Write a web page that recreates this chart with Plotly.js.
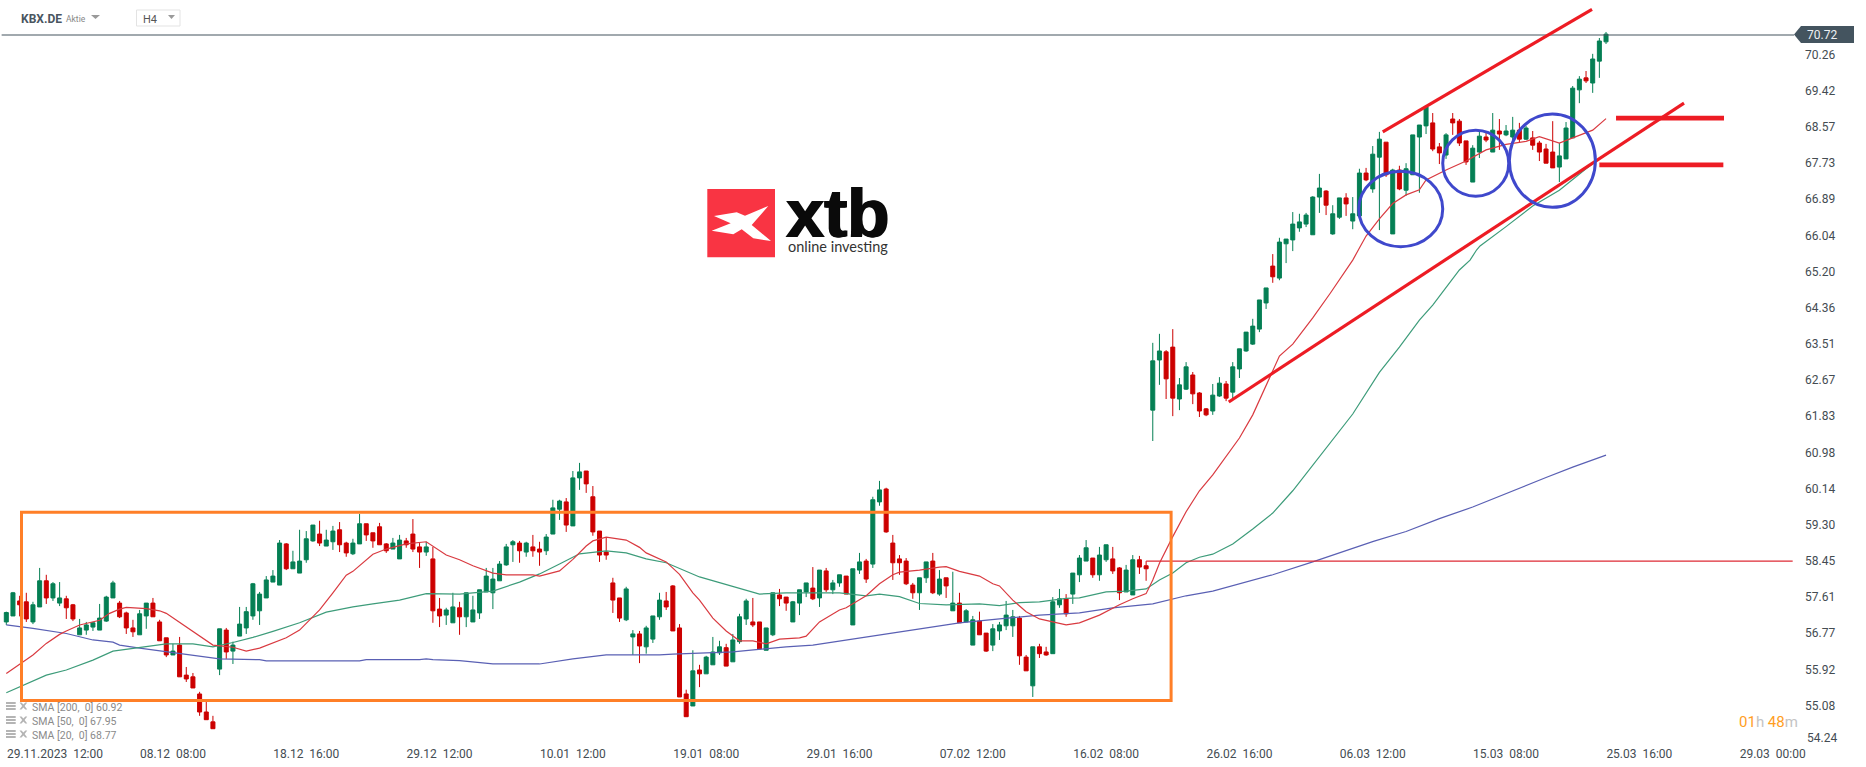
<!DOCTYPE html>
<html><head><meta charset="utf-8">
<script src="https://cdn.plot.ly/plotly-3.0.1.min.js"></script>
<style>html,body{margin:0;padding:0;background:#fff;overflow:hidden}#c{width:1866px;height:767px}</style>
</head><body><div id="c"></div>
<script>
// One entry per H4 candle, left to right.
const opens=[57.03,57.17,57.52,57.50,57.03,57.38,57.99,57.59,57.47,57.57,
57.43,56.73,56.84,56.91,56.84,57.05,57.59,57.47,57.24,56.89,
56.73,57.17,57.47,57.03,56.66,56.26,56.49,55.79,55.75,55.35,
54.93,54.70,55.93,56.84,56.35,56.70,56.89,57.17,57.29,57.59,
57.96,57.89,58.85,58.27,58.17,58.48,58.92,59.08,58.80,58.90,
59.18,58.87,58.62,58.85,59.32,59.11,59.25,58.85,58.73,58.50,
58.92,59.08,58.78,58.66,58.50,57.33,57.19,57.01,57.36,57.15,
57.03,57.24,57.73,57.71,57.99,58.36,58.83,58.87,58.66,58.78,
58.73,58.69,59.08,59.66,59.83,59.27,60.39,60.55,59.95,59.15,
58.66,57.94,57.59,57.08,56.68,56.75,56.45,56.63,57.15,57.52,
57.87,56.89,55.35,55.07,55.91,55.82,56.03,56.31,56.43,56.10,
56.57,57.10,57.03,57.03,56.37,56.73,57.66,57.61,57.03,57.47,
57.73,57.82,57.59,58.22,57.78,57.94,58.10,56.96,58.24,58.45,
58.38,59.83,60.13,58.87,58.50,58.45,57.89,57.71,58.06,58.45,
57.68,58.06,57.29,57.47,57.03,56.49,57.05,56.77,56.49,56.82,
56.94,56.94,57.12,56.21,55.54,56.45,56.33,56.29,57.43,57.57,
57.68,58.13,58.45,58.52,58.13,58.48,58.50,58.29,57.73,57.66,
58.48,58.34,61.97,63.14,63.33,63.44,62.23,62.46,62.79,62.37,
62.00,61.95,62.30,62.58,62.39,62.93,63.35,63.51,63.86,64.47,
65.33,65.05,65.85,65.94,66.22,66.31,66.06,66.94,67.08,66.08,
66.47,66.92,66.38,66.50,67.50,67.13,67.87,68.22,66.08,67.57,
67.10,67.46,68.34,68.60,68.67,68.11,67.92,68.76,68.71,68.25,
67.29,67.99,68.34,67.99,68.48,68.39,68.34,68.50,68.29,68.32,
68.20,68.06,67.99,67.64,67.83,68.32,69.44,69.72,69.60,70.11,
70.56];
const highs=[57.27,57.73,57.64,57.71,57.50,58.29,58.13,57.96,57.96,57.64,
57.45,57.10,57.03,57.03,57.45,57.64,57.99,57.52,57.27,57.08,
57.31,57.47,57.59,57.08,56.66,56.52,56.68,55.98,55.84,55.40,
55.17,54.84,56.87,56.89,56.57,57.38,57.38,57.94,57.73,58.10,
58.24,58.94,58.87,58.69,59.18,59.15,59.29,59.39,59.18,59.27,
59.36,58.90,58.97,59.55,59.32,59.11,59.34,58.87,58.99,59.06,
58.99,59.43,58.87,58.90,58.78,57.59,57.36,57.71,57.50,57.71,
57.64,57.78,58.29,58.29,58.45,58.85,58.94,58.92,58.90,59.06,
58.90,59.08,59.88,59.88,59.92,60.55,60.74,60.55,60.20,59.15,
59.01,58.06,57.59,57.85,56.84,56.82,56.94,57.17,57.71,57.73,
57.89,56.98,55.45,56.37,56.03,56.24,56.68,56.59,56.52,56.75,
57.22,57.57,57.59,57.03,56.89,57.71,57.80,57.61,57.52,57.78,
57.94,58.31,58.24,58.29,58.01,58.13,58.10,58.27,58.64,58.50,
59.95,60.32,60.16,59.06,58.59,58.52,57.94,58.06,58.43,58.64,
58.24,58.06,58.20,57.71,57.33,57.17,57.27,56.77,56.98,57.03,
57.52,57.31,57.17,56.26,56.45,56.52,56.45,57.61,57.80,57.68,
58.17,58.59,58.94,58.52,58.78,58.83,58.78,58.31,58.36,58.59,
58.57,58.45,63.54,63.75,63.37,63.86,62.72,63.09,62.86,62.39,
62.02,62.58,62.74,62.65,63.09,63.40,63.79,64.10,64.54,64.82,
65.61,65.99,65.96,66.59,66.55,66.57,66.96,67.48,67.10,66.75,
66.92,67.03,66.94,67.60,67.62,68.13,68.46,68.22,67.60,67.67,
67.73,68.39,68.62,69.04,68.90,68.20,68.43,68.90,68.76,68.25,
68.15,68.48,68.48,68.90,68.76,68.62,68.81,68.67,68.60,68.48,
68.25,68.18,68.71,68.20,68.69,69.53,69.76,69.88,70.28,70.65,
70.79];
const lows=[56.96,57.17,57.16,57.03,56.98,57.38,57.45,57.52,57.40,57.10,
57.05,56.73,56.73,56.82,56.84,57.03,57.59,57.12,56.75,56.68,
56.73,56.87,57.15,56.59,56.21,56.26,55.75,55.63,55.49,54.84,
54.75,54.54,55.79,56.17,56.05,56.70,56.75,57.08,56.96,57.59,
57.96,57.89,58.24,58.27,58.17,58.41,58.90,58.80,58.80,58.71,
58.66,58.55,58.59,58.85,58.92,58.76,58.83,58.64,58.73,58.50,
58.76,58.66,58.29,58.57,57.01,56.91,56.96,57.01,56.73,56.91,
57.03,57.10,57.73,57.33,57.99,58.34,58.43,58.41,58.55,58.55,
58.34,58.59,59.08,59.41,59.13,59.27,60.11,60.04,59.04,58.43,
58.48,57.24,57.03,57.05,56.26,56.07,56.29,56.54,57.08,57.31,
56.82,55.28,54.82,55.07,55.51,55.82,56.03,56.26,56.00,56.10,
56.52,56.96,56.91,56.40,56.37,56.70,57.40,57.29,57.03,57.19,
57.61,57.54,57.38,57.73,57.68,57.85,57.68,56.96,58.15,57.94,
58.29,59.74,59.11,58.01,58.13,57.89,57.57,57.31,57.94,57.68,
57.64,57.59,57.29,57.01,57.03,56.49,56.73,56.33,56.35,56.61,
56.84,56.68,56.03,55.89,55.28,56.19,56.24,56.29,57.36,57.15,
57.45,57.96,58.45,58.06,57.99,58.43,58.15,57.54,57.73,57.66,
58.15,57.99,61.25,62.56,62.23,61.83,61.97,62.44,62.11,61.81,
61.83,61.86,62.28,62.18,62.25,62.72,63.33,63.49,63.79,64.33,
64.94,65.00,65.40,65.68,66.13,66.24,66.06,66.57,66.52,66.06,
66.43,66.50,66.19,66.50,67.31,67.04,66.17,67.41,66.08,67.10,
66.97,67.46,67.04,68.41,68.01,67.71,67.83,68.39,68.13,67.69,
67.29,67.85,68.22,67.99,68.04,68.36,68.27,68.20,68.27,68.04,
67.78,67.73,67.62,67.29,67.83,68.32,69.13,69.60,69.37,69.72,
70.51];
const closes=[57.25,57.71,57.43,57.10,57.43,57.99,57.59,57.92,57.59,57.36,
57.10,56.89,56.96,57.01,57.12,57.61,57.94,57.15,56.89,56.80,
57.22,57.47,57.15,56.59,56.26,56.35,55.75,55.70,55.49,54.93,
54.75,54.54,56.87,56.33,56.49,56.98,57.27,57.92,57.68,58.01,
58.10,58.87,58.27,58.43,58.45,58.97,59.29,58.87,58.94,59.15,
58.83,58.64,58.87,59.32,59.06,58.92,58.83,58.69,58.87,58.94,
58.83,58.73,58.66,58.78,57.29,57.17,57.31,57.38,57.15,57.71,
57.31,57.78,58.10,58.03,58.38,58.78,58.90,58.69,58.87,58.69,
58.66,59.01,59.69,59.85,59.29,60.39,60.53,60.25,59.13,58.59,
58.59,57.54,57.12,57.80,56.75,56.47,56.89,57.17,57.54,57.38,
56.82,55.28,54.82,55.89,55.82,56.21,56.33,56.45,56.00,56.61,
57.15,57.52,56.96,56.40,56.89,57.71,57.57,57.47,57.50,57.78,
57.94,57.57,58.24,57.78,57.94,58.13,57.68,58.27,58.43,58.03,
59.88,60.11,59.13,58.41,58.41,57.92,57.71,58.06,58.43,57.71,
58.03,57.87,57.47,57.01,57.29,57.08,56.73,56.35,56.87,56.96,
57.19,57.15,56.24,55.89,56.45,56.29,56.26,57.50,57.57,57.22,
58.17,58.52,58.76,58.13,58.59,58.83,58.22,57.71,58.24,58.48,
58.31,58.27,63.12,63.35,62.70,62.25,62.56,62.98,62.35,61.95,
61.86,62.32,62.60,62.25,62.98,63.40,63.79,63.93,64.54,64.82,
65.08,65.89,65.96,66.31,66.36,66.52,66.94,67.15,66.75,66.55,
66.92,66.78,66.55,67.50,67.34,67.94,68.29,67.46,67.57,67.13,
67.60,68.39,68.62,69.04,68.06,67.97,68.39,68.67,68.20,67.76,
68.08,68.36,68.27,68.50,68.41,68.48,68.50,68.29,68.55,68.15,
67.99,67.73,67.62,67.90,68.55,69.48,69.69,69.65,70.16,70.58,
70.74];

// Moving averages: candle position and value at points.
const sma20X=[0,4,6,8,9,11,14,15.5,17,18,21,23,24,27,31,34,36,38,42,44,47,49,51,52,54,55,57,60,63,66,68,70,73,75,79,80,83,85,87,88,90,93,95,96,99,101,103,104,106,108,110,112,114,116,119,120,122,125,126,129,131,133,134,137,140,141,143,146,148,149,151,153,155,157,159,161,164,167,169,171,172,173,175,177,179,181,183,185,187,191,193,196,198.6,202,203,204,206,208,210,212,213,216,219,222,225,228,230,233,235,238,240];
const sma20Y=[55.83,56.26,56.53,56.74,56.82,56.96,57.07,57.23,57.33,57.37,57.34,57.29,57.23,56.92,56.49,56.44,56.35,56.42,56.66,56.84,57.31,57.71,58.12,58.21,58.48,58.61,58.73,58.85,58.90,58.59,58.48,58.34,58.17,58.13,58.13,58.10,58.22,58.49,58.80,58.92,59.01,58.94,58.77,58.64,58.43,58.14,57.71,57.54,57.12,56.82,56.59,56.59,56.52,56.63,56.66,56.70,57.03,57.31,57.36,57.64,57.92,58.13,58.19,58.24,58.31,58.32,58.21,58.10,57.92,57.87,57.54,57.27,57.10,57.03,56.96,57.01,57.19,57.43,57.57,57.69,58.01,58.40,59.02,59.60,60.09,60.46,60.90,61.32,61.86,63.23,63.51,64.12,64.69,65.47,65.75,66.03,66.43,66.79,66.99,67.11,67.34,67.57,67.78,68.04,68.17,68.24,68.35,68.20,68.32,68.50,68.77];
const sma50X=[0,4,6,9,13,16,20,24,28,31,34,37,40,44,48,52,55,59,63,65,68,70,73,77,80,83,86,90,93,96,99,104,109,113,117,121,125,129,131,134,137,141,146,149,152,155,159,161,165,168,171,173,175,177,179,181,184,187,190,193,196,199,200.1,202,206,209,212,214,218,219.6,220.6,221.1,225,229,233,237,240];
const sma50Y=[55.38,55.65,55.79,55.91,56.14,56.35,56.43,56.52,56.52,56.45,56.55,56.67,56.81,57.01,57.26,57.38,57.45,57.54,57.69,57.68,57.68,57.71,57.75,57.96,58.15,58.38,58.62,58.69,58.64,58.50,58.41,58.08,57.85,57.68,57.71,57.71,57.71,57.64,57.68,57.62,57.46,57.43,57.45,57.41,57.48,57.50,57.58,57.59,57.73,57.75,57.80,58.01,58.17,58.41,58.54,58.61,58.85,59.20,59.57,60.09,60.69,61.28,61.49,61.88,62.85,63.44,64.07,64.42,65.24,65.47,65.71,65.80,66.25,66.73,67.10,67.60,67.95];
const sma200X=[0,4,9,13,16,17,20,24,28,32,38,39,53,54,62,63,64,68,73,80,85,90,98,100,109,113,117,121,127,131,134,136,138,143,149,155,161,166,172,177,181,185,190,196,200.1,205.1,210,215,220,225,231,235,240];
const sma200Y=[56.96,56.88,56.76,56.61,56.56,56.49,56.42,56.34,56.26,56.17,56.15,56.12,56.12,56.15,56.15,56.17,56.15,56.13,56.05,56.05,56.17,56.26,56.26,56.28,56.33,56.39,56.45,56.49,56.63,56.73,56.80,56.83,56.89,57.01,57.10,57.19,57.24,57.36,57.45,57.64,57.75,57.92,58.13,58.43,58.65,58.91,59.14,59.44,59.71,60.03,60.40,60.64,60.92];

// Axis ticks
const yTickVals=[55.08,55.92,56.77,57.61,58.45,59.30,60.14,60.98,61.83,62.67,63.51,64.36,65.20,66.04,66.89,67.73,68.57,69.42,70.26];
const yTickText=yTickVals.map(v=>v.toFixed(2));
const xTickPos=[7.3,25,45,65,85,105,125,145,165,185,205,225,245,265];
const xTickText=["29.11.2023","08.12","18.12","29.12","10.01","19.01","29.01","07.02","16.02","26.02","06.03","15.03","25.03","29.03"];
const xTickTime=["12:00","08:00","16:00","12:00","12:00","08:00","16:00","12:00","08:00","16:00","12:00","08:00","16:00","00:00"];

// Analyst drawings, in candle position and price
const rangeBox={x0:2.28,x1:174.75,y0:55.2,y1:59.59};
const channelTop={x0:206.5,y0:68.46,x1:237.9,y1:71.32};
const channelBottom={x0:183.4,y0:62.16,x1:251.7,y1:69.13};
const levels=[{x0:241.5,x1:257.7,y:68.78},{x0:239,x1:257.6,y:67.69}];
const circles=[{x0:202.9,x1:215.5,y0:65.78,y1:67.54},{x0:215.5,x1:225.4,y0:66.96,y1:68.50},{x0:225.5,x1:238.4,y0:66.70,y1:68.88}];
const lastPrice=70.72, oldLevel=58.45;

const W=1800,H=745;
const px=x=>x/W, py=y=>1-y/H;
const poly=pts=>'M'+pts.map(p=>px(p[0])+','+py(p[1])).join('L')+'Z';
const note=(x,y,text,size,color,extra)=>Object.assign({xref:'paper',yref:'paper',x:px(x),y:py(y),text:text,showarrow:false,xanchor:'left',yanchor:'middle',align:'left',borderpad:0,font:{family:'Roboto',size:size,color:color}},extra||{});

const shapes=[];
const seg=(x0,y0,x1,y1,color,w)=>shapes.push({type:'line',xref:'x',yref:'y',x0,y0,x1,y1,line:{color:color,width:w}});
seg(-0.7,lastPrice,268.2,lastPrice,'#44545f',1.2);
seg(171,oldLevel,268,oldLevel,'#de2a35',1.2);
shapes.push({type:'rect',xref:'x',yref:'y',x0:rangeBox.x0,x1:rangeBox.x1,y0:rangeBox.y0,y1:rangeBox.y1,line:{color:'#ff7f27',width:3}});
seg(channelTop.x0,channelTop.y0,channelTop.x1,channelTop.y1,'#ed1c24',3.2);
seg(channelBottom.x0,channelBottom.y0,channelBottom.x1,channelBottom.y1,'#ed1c24',3.2);
levels.forEach(l=>seg(l.x0,l.y,l.x1,l.y,'#ed1c24',4.8));
circles.forEach(c=>shapes.push({type:'circle',xref:'x',yref:'y',x0:c.x0,x1:c.x1,y0:c.y0,y1:c.y1,line:{color:'#3f48cc',width:3}}));
const paperShape=(path,fill,line)=>shapes.push({type:'path',xref:'paper',yref:'paper',path:path,fillcolor:fill,line:{color:line||fill,width:line?1:0}});
paperShape(poly([[1794,34.5],[1801,26],[1854,26],[1854,43],[1801,43]]),'#44545f');
paperShape(poly([[707.3,189],[775,189],[775,257.3],[707.3,257.3]]),'#f93443');
paperShape(poly([[714,216],[736.7,212.3],[745,215.7],[768.3,206],[751.7,225],[771,241],[753.3,238.3],[741.7,229.3],[733.3,234.3],[711.7,230.7],[730.7,223.3]]),'#ffffff');
paperShape(poly([[91,15],[100,15],[95.5,19]]),'#9a9a9a');
paperShape(poly([[168,15],[175,15],[171.5,19]]),'#9a9a9a');
shapes.push({type:'rect',xref:'paper',yref:'paper',x0:px(136.5),x1:px(180),y0:py(26),y1:py(10),line:{color:'#e3e3e3',width:1}});
// SMA legend icons
[706,720,734].forEach(y=>{
 [-4,-1,2].forEach(d=>paperShape(poly([[6,y+d],[15.7,y+d],[15.7,y+d+2],[6,y+d+2]]),'#b4b4b4'));
 paperShape(poly([[19.5,y-3.5],[21.5,y-3.5],[23.4,y-1.5],[25.3,y-3.5],[27.3,y-3.5],[24.6,y],[27.3,y+3.5],[25.3,y+3.5],[23.4,y+1.5],[21.5,y+3.5],[19.5,y+3.5],[22.2,y]]),'#b4b4b4');
});

const annotations=[
 note(20,19,'<b>KBX.DE</b>',12,'#4a5560'),
 note(65,19,'Aktie',8.5,'#888888'),
 note(142,20,'H4',11,'#555555'),
 note(1806,35,'70.72',12,'#eef1f3'),
 note(1806,738,'54.24',12,'#444c52'),
 note(1738,722,'01<span style="color:#c4c4c4">h</span> 48<span style="color:#c4c4c4">m</span>',15,'#ff9e1f'),
 note(785,214,'<b>xtb</b>',69,'#0a0a0a',{font:{family:'Liberation Sans',size:69,color:'#0a0a0a',shadow:'1px 0 0 #0a0a0a, -1px 0 0 #0a0a0a'}}),
 note(787,246,'online investing',14.5,'#333333',{font:{family:'Lato',size:14.5,color:'#333333'}}),
 note(31,707.7,'SMA [200,\u00a0 0] 60.92',10.5,'#8a8a8a'),
 note(31,721.7,'SMA [50,\u00a0 0] 67.95',10.5,'#8a8a8a'),
 note(31,735.7,'SMA [20,\u00a0 0] 68.77',10.5,'#8a8a8a')
];

const candle={type:'candlestick',x:opens.map((_,i)=>i),open:opens,high:highs,low:lows,close:closes,
 increasing:{line:{color:'#057f54',width:1},fillcolor:'#057f54'},
 decreasing:{line:{color:'#cc0000',width:1},fillcolor:'#cc0000'},
 whiskerwidth:0,hoverinfo:'skip'};
const sma=(x,y,color)=>({type:'scatter',mode:'lines',x:x,y:y,line:{color:color,width:1.2},hoverinfo:'skip'});

Plotly.newPlot('c',[candle,sma(sma200X,sma200Y,'#5a60b4'),sma(sma50X,sma50Y,'#3d9c7a'),sma(sma20X,sma20Y,'#d93a40')],{
 width:1866,height:767,paper_bgcolor:'#ffffff',plot_bgcolor:'#ffffff',showlegend:false,
 margin:{l:0,r:66,t:0,b:22,pad:0},boxgap:0.4,boxgroupgap:0,
 xaxis:{range:[-0.945,269.1],type:'linear',rangeslider:{visible:false},showgrid:false,zeroline:false,showline:false,
  tickmode:'array',tickvals:xTickPos,ticktext:xTickText.map((d,i)=>d+'\u00a0\u00a0'+xTickTime[i]),ticks:'',
  tickfont:{family:'Roboto',size:12,color:'#444c52'},tickangle:0},
 yaxis:{range:[54.16,71.536],type:'linear',side:'right',showgrid:false,zeroline:false,showline:false,
  tickmode:'array',tickvals:yTickVals,ticktext:yTickText,ticks:'',ticklabelstandoff:4,
  tickfont:{family:'Roboto',size:12,color:'#444c52'}},
 shapes:shapes,annotations:annotations
},{displayModeBar:false,staticPlot:true});
</script></body></html>
